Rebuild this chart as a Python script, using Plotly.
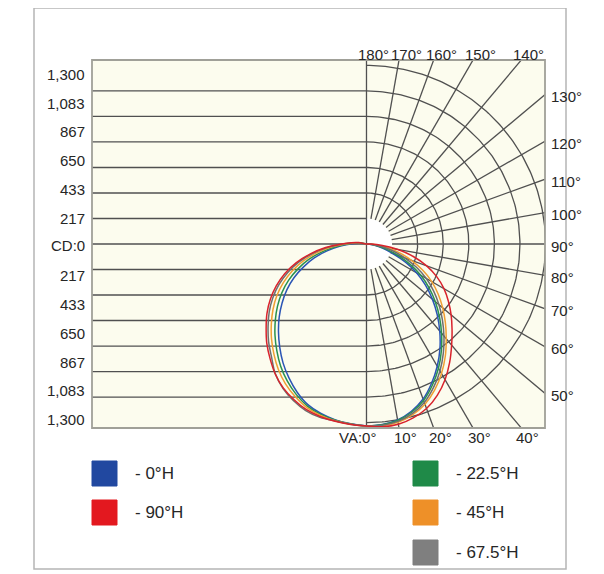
import numpy as np
import plotly.graph_objects as go

# ---------------- data (candela) ----------------
ANG_RIGHT = [0, 5, 10, 15, 20, 25, 30, 35, 40, 45, 50, 55, 60, 65, 70, 75, 80, 85, 90]
ANG_LEFT = [0, 5, 10, 15, 20, 25, 30, 35, 40, 45, 50, 55, 60, 65, 70, 75, 80, 85, 90, 95, 100]

H0_RIGHT = [1370, 1364, 1345, 1304, 1243, 1157, 1063, 962, 856, 751, 646, 541, 436, 323, 210, 128, 68, 26, 0]
H0_LEFT = [1370, 1360, 1345, 1322, 1288, 1232, 1165, 1093, 1014, 935, 856, 774, 691, 601, 503, 406, 301, 203, 120, 60, 23]
H225_RIGHT = [1370, 1367, 1350, 1312, 1254, 1172, 1081, 981, 877, 775, 674, 573, 471, 362, 251, 163, 94, 40, 5]
H225_LEFT = [1370, 1361, 1348, 1329, 1299, 1250, 1191, 1124, 1048, 972, 894, 816, 734, 645, 548, 449, 339, 235, 140, 76, 34]
H45_RIGHT = [1370, 1374, 1364, 1333, 1285, 1213, 1127, 1032, 932, 838, 747, 657, 566, 465, 359, 258, 163, 78, 17]
H45_LEFT = [1370, 1362, 1352, 1336, 1311, 1268, 1217, 1154, 1082, 1009, 933, 857, 777, 689, 594, 491, 377, 266, 161, 92, 45]
H675_RIGHT = [1370, 1370, 1357, 1322, 1270, 1192, 1104, 1006, 905, 806, 710, 615, 519, 414, 305, 211, 128, 59, 11]
H675_LEFT = [1370, 1363, 1354, 1352, 1335, 1301, 1256, 1194, 1110, 1040, 965, 892, 813, 726, 631, 527, 409, 292, 178, 105, 54]
H90_RIGHT = [1370, 1382, 1379, 1356, 1319, 1258, 1180, 1089, 995, 909, 830, 751, 672, 582, 481, 364, 240, 120, 30]
H90_LEFT = [1370, 1364, 1356, 1345, 1326, 1292, 1251, 1195, 1127, 1059, 984, 913, 834, 748, 654, 548, 428, 308, 188, 113, 60]

SERIES_NAMES = ["- 0°H", "- 22.5°H", "- 45°H", "- 67.5°H", "- 90°H"]
SERIES_COLORS = ["#2b55b5", "#2a9150", "#f0a033", "#6f6f6f", "#d9232c"]
LEGEND_COLORS = ["#2148a0", "#1f8a48", "#ee9028", "#7f7f7f", "#e3181f"]

CD_VALUES = [217, 433, 650, 867, 1083, 1300]
CD_LABELS = ["217", "433", "650", "867", "1,083", "1,300"]

TOP_ANGLES = [180, 170, 160, 150, 140]
RIGHT_ANGLES = [130, 120, 110, 100, 90, 80, 70, 60, 50]
BOTTOM_ANGLES = [0, 10, 20, 30, 40]

# ---------------- layout constants (reference pixel geometry) ----------------
OFF = 8                      # page body margin
W, H = 604, 574
L, R, T, B = 92, 59, 60, 146
PW, PH = W - L - R, H - T - B
X_MIN, X_MAX = -2062, 1341
Y_MIN, Y_MAX = -1386, 1386
RING_MAX = 1345
N_RINGS = 7
RING = RING_MAX / N_RINGS
KX = PW / (X_MAX - X_MIN)

FONT = "Liberation Sans, Arial, sans-serif"
TXT = "#262626"
GRID = "#505050"


def px_x(p):
    return (p - L) / PW


def px_y(p):
    return (H - B - p) / PH


fig = go.Figure()

# white hub around the pole (right half)
th = np.radians(np.linspace(0, 180, 91))
fig.add_trace(go.Scatter(x=list(RING * np.sin(th)), y=list(-RING * np.cos(th)),
                         mode="lines", fill="toself", fillcolor="#ffffff",
                         line=dict(width=0, color="#ffffff"),
                         hoverinfo="skip", showlegend=False))

# ---------------- grid ----------------
gx, gy = [], []
for k in range(0, N_RINGS):
    for s in ([1, -1] if k else [1]):
        gx += [X_MIN, 0, None]
        gy += [s * k * RING, s * k * RING, None]
gx += [0, 0, None]
gy += [Y_MIN, Y_MAX, None]
th = np.radians(np.linspace(0, 180, 181))
for k in range(2, N_RINGS + 1):
    r = k * RING
    gx += list(r * np.sin(th)) + [None]
    gy += list(-r * np.cos(th)) + [None]
for a in range(10, 180, 10):
    t = np.radians(a)
    gx += [RING * np.sin(t), 4000 * np.sin(t), None]
    gy += [-RING * np.cos(t), -4000 * np.cos(t), None]

fig.add_trace(go.Scatter(x=gx, y=gy, mode="lines",
                         line=dict(color=GRID, width=1.3),
                         hoverinfo="skip", showlegend=False))

# ---------------- curves ----------------
SERIES = [(H0_LEFT, H0_RIGHT), (H225_LEFT, H225_RIGHT), (H45_LEFT, H45_RIGHT),
          (H675_LEFT, H675_RIGHT), (H90_LEFT, H90_RIGHT)]
for (left, right), name, col in zip(SERIES, SERIES_NAMES, SERIES_COLORS):
    al = np.radians(np.array(ANG_LEFT[::-1], float))
    rl = np.array(left[::-1], float)
    ar = np.radians(np.array(ANG_RIGHT[1:], float))
    rr = np.array(right[1:], float)
    xs = np.concatenate([[0], -rl * np.sin(al), rr * np.sin(ar), [0]])
    ys = np.concatenate([[0], -rl * np.cos(al), -rr * np.cos(ar), [0]])
    fig.add_trace(go.Scatter(x=xs, y=ys, mode="lines", name=name,
                             line=dict(color=col, width=1.5, shape="spline", smoothing=1.0),
                             showlegend=False))

ann = []
shapes = []

shapes.append(dict(type="rect", xref="paper", yref="paper",
                   x0=px_x(34), x1=px_x(566), y0=px_y(569), y1=px_y(8),
                   line=dict(color="#b5b5b5", width=1.5), layer="below"))
shapes.append(dict(type="rect", xref="paper", yref="paper", x0=0, x1=1, y0=0, y1=1,
                   line=dict(color="#a0a098", width=1.8)))

ann.append(dict(x=px_x(87), y=0, xref="paper", yref="y", text="CD:0",
                xanchor="right", yanchor="middle", showarrow=False, yshift=-1))
for v, lab in zip(CD_VALUES, CD_LABELS):
    for s in (1, -1):
        ann.append(dict(x=px_x(87), y=s * v, xref="paper", yref="y", text=lab,
                        xanchor="right", yanchor="middle", showarrow=False, yshift=-3))

for a in TOP_ANGLES:
    xh = Y_MAX * np.tan(np.radians(180 - a))
    ann.append(dict(x=xh + 7.5 / KX, y=1, xref="x", yref="paper", text=f"{a}°",
                    xanchor="center", yanchor="middle", showarrow=False, yshift=6))
for a in RIGHT_ANGLES:
    t = np.radians(a)
    yh = -X_MAX * np.cos(t) / np.sin(t)
    ann.append(dict(x=px_x(549), y=yh, xref="paper", yref="y", text=f"{a}°",
                    xanchor="left", yanchor="middle", showarrow=False, yshift=-2))
for a in BOTTOM_ANGLES:
    if a == 0:
        ann.append(dict(x=12 / KX, y=0, xref="x", yref="paper", text="VA:0°",
                        xanchor="right", yanchor="middle", showarrow=False, yshift=-9))
    else:
        xh = -Y_MIN * np.tan(np.radians(a))
        ann.append(dict(x=xh + 6.5 / KX, y=0, xref="x", yref="paper", text=f"{a}°",
                        xanchor="center", yanchor="middle", showarrow=False, yshift=-9))

LEG_POS = [(92, 461), (413, 461), (413, 500), (413, 540), (92, 500)]
for (lx, ly), name, col in zip(LEG_POS, SERIES_NAMES, LEGEND_COLORS):
    shapes.append(dict(type="rect", xref="paper", yref="paper",
                       x0=px_x(lx), x1=px_x(lx + 25), y0=px_y(ly + 25), y1=px_y(ly),
                       fillcolor=col, line=dict(color=col, width=1)))
    ann.append(dict(x=px_x(lx + 41), y=px_y(ly + 12.5), xref="paper", yref="paper",
                    text=name, xanchor="left", yanchor="middle", showarrow=False,
                    font=dict(size=17, color=TXT, family=FONT)))

fig.update_layout(
    width=W - OFF, height=H - OFF,
    margin=dict(l=L - OFF, r=R, t=T - OFF, b=B, pad=0),
    paper_bgcolor="white",
    plot_bgcolor="#fcfcee",
    font=dict(family=FONT, size=15, color=TXT),
    xaxis=dict(range=[X_MIN, X_MAX], visible=False, fixedrange=True),
    yaxis=dict(range=[Y_MIN, Y_MAX], visible=False, fixedrange=True),
    shapes=shapes, annotations=ann, showlegend=False,
)

fig.write_html("out.html")
